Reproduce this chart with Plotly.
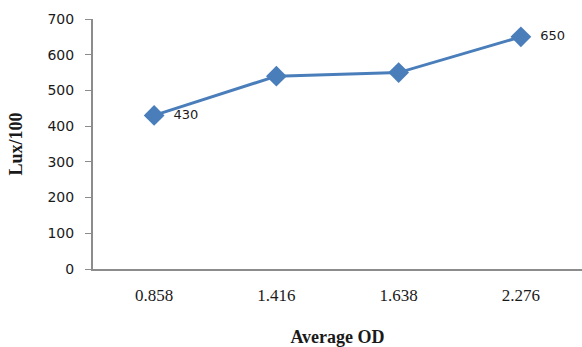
import plotly.graph_objects as go

# Average optical density vs. illuminance
categories = ["0.858", "1.416", "1.638", "2.276"]
lux_values = [430, 540, 550, 650]
point_labels = ["430", "", "", "650"]
y_ticks = [0, 100, 200, 300, 400, 500, 600, 700]

line_color = "#4a7ebb"
axis_color = "#8c8c8c"

fig = go.Figure()
fig.add_trace(go.Scatter(
    x=categories,
    y=lux_values,
    mode="lines+markers+text",
    text=["  " + t if t else "" for t in point_labels],
    textposition="middle right",
    textfont=dict(family="DejaVu Sans", size=13, color="#1a1a1a"),
    line=dict(color=line_color, width=3),
    marker=dict(symbol="diamond", size=16, color=line_color),
    cliponaxis=False,
    showlegend=False,
))

fig.update_layout(
    width=582,
    height=347,
    margin=dict(l=93, r=0, t=19, b=78),
    paper_bgcolor="white",
    plot_bgcolor="white",
    xaxis=dict(
        type="category",
        range=[-0.5, 3.5],
        showline=True,
        linecolor=axis_color,
        linewidth=2,
        showgrid=False,
        ticks="",
        tickfont=dict(family="Liberation Serif", size=17, color="#1a1a1a"),
        ticklabelstandoff=10,
        title=dict(
            text="<b>Average OD</b>",
            font=dict(family="Liberation Serif", size=18, color="#1a1a1a"),
            standoff=28,
        ),
    ),
    yaxis=dict(
        range=[0, 700],
        tickvals=y_ticks,
        showline=True,
        linecolor=axis_color,
        linewidth=2,
        showgrid=False,
        zeroline=False,
        ticks="outside",
        ticklen=6,
        tickcolor=axis_color,
        tickwidth=1,
        ticklabelstandoff=8,
        tickfont=dict(family="DejaVu Sans", size=14, color="#1a1a1a"),
        title=dict(
            text="<b>Lux/100</b>",
            font=dict(family="Liberation Serif", size=18, color="#1a1a1a"),
            standoff=20,
        ),
    ),
)

fig.write_html("out.html")
